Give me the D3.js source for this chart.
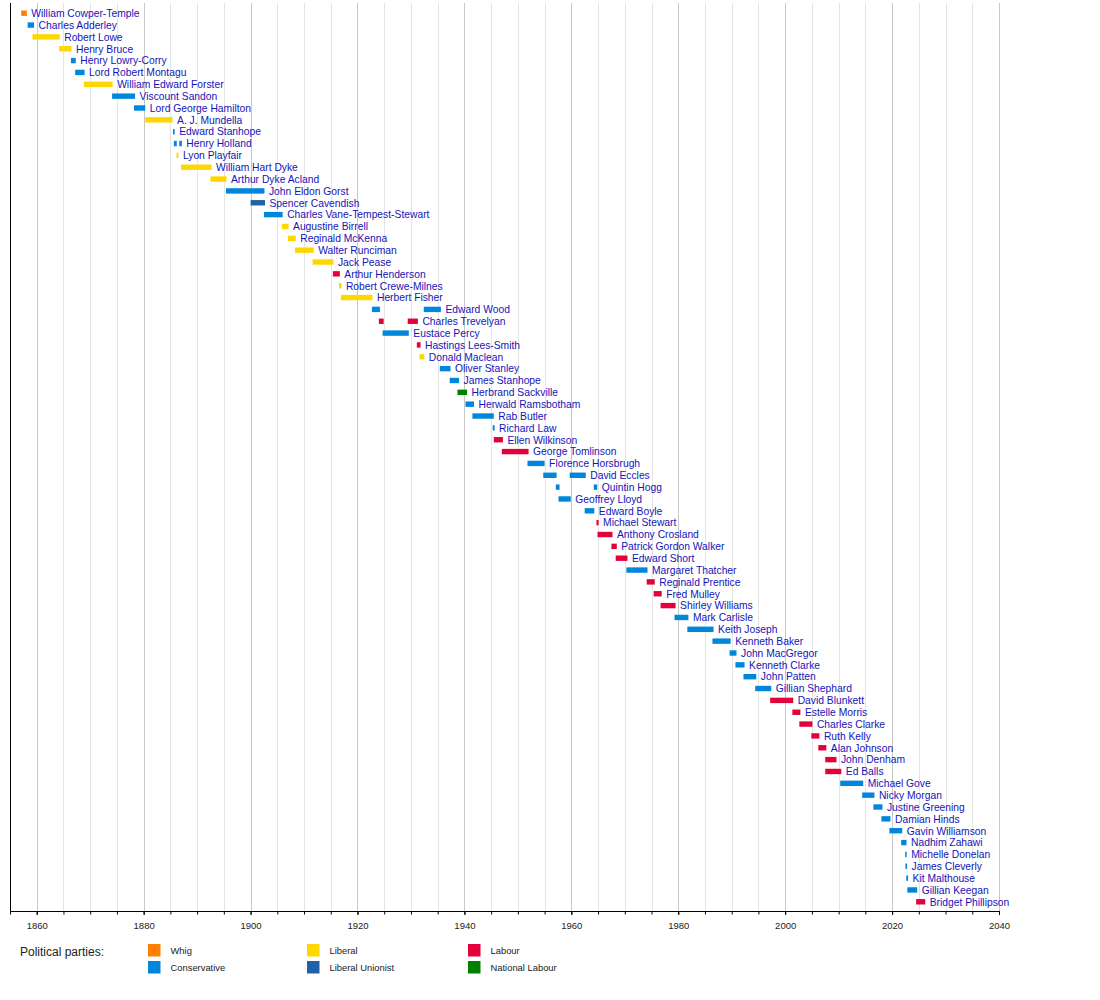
<!DOCTYPE html>
<html>
<head>
<meta charset="utf-8">
<script src="https://cdn.jsdelivr.net/npm/d3@7"></script>
<style>
  body { margin: 0; background: #fff; }
  svg { display: block; font-family: "Liberation Sans", Arial, sans-serif; }
</style>
</head>
<body>
<svg></svg>
<script>
// ministers, top to bottom
const names = [
    "William Cowper-Temple", "Charles Adderley", "Robert Lowe", "Henry Bruce", "Henry Lowry-Corry",
    "Lord Robert Montagu", "William Edward Forster", "Viscount Sandon", "Lord George Hamilton", "A. J. Mundella",
    "Edward Stanhope", "Henry Holland", "Lyon Playfair", "William Hart Dyke", "Arthur Dyke Acland",
    "John Eldon Gorst", "Spencer Cavendish", "Charles Vane-Tempest-Stewart", "Augustine Birrell", "Reginald McKenna",
    "Walter Runciman", "Jack Pease", "Arthur Henderson", "Robert Crewe-Milnes", "Herbert Fisher",
    "Edward Wood", "Charles Trevelyan", "Eustace Percy", "Hastings Lees-Smith", "Donald Maclean",
    "Oliver Stanley", "James Stanhope", "Herbrand Sackville", "Herwald Ramsbotham", "Rab Butler",
    "Richard Law", "Ellen Wilkinson", "George Tomlinson", "Florence Horsbrugh", "David Eccles",
    "Quintin Hogg", "Geoffrey Lloyd", "Edward Boyle", "Michael Stewart", "Anthony Crosland",
    "Patrick Gordon Walker", "Edward Short", "Margaret Thatcher", "Reginald Prentice", "Fred Mulley",
    "Shirley Williams", "Mark Carlisle", "Keith Joseph", "Kenneth Baker", "John MacGregor",
    "Kenneth Clarke", "John Patten", "Gillian Shephard", "David Blunkett", "Estelle Morris",
    "Charles Clarke", "Ruth Kelly", "Alan Johnson", "John Denham", "Ed Balls",
    "Michael Gove", "Nicky Morgan", "Justine Greening", "Damian Hinds", "Gavin Williamson",
    "Nadhim Zahawi", "Michelle Donelan", "James Cleverly", "Kit Malthouse", "Gillian Keegan",
    "Bridget Phillipson"
];

// W = Whig, C = Conservative, L = Liberal, LU = Liberal Unionist, Lab = Labour, NL = National Labour
const parties = [
    "W", "C", "L", "L", "C",
    "C", "L", "C", "C", "L",
    "C", "C", "L", "L", "L",
    "C", "LU", "C", "L", "L",
    "L", "L", "Lab", "L", "L",
    "C", "Lab", "C", "Lab", "L",
    "C", "C", "NL", "C", "C",
    "C", "Lab", "Lab", "C", "C",
    "C", "C", "C", "Lab", "Lab",
    "Lab", "Lab", "C", "Lab", "Lab",
    "Lab", "C", "C", "C", "C",
    "C", "C", "C", "Lab", "Lab",
    "Lab", "Lab", "Lab", "Lab", "Lab",
    "C", "C", "C", "C", "C",
    "C", "C", "C", "C", "C",
    "Lab"
];

// terms in office, [start, end] in decimal years
const terms = [
    [[1857.1, 1858.15]], [[1858.3, 1859.5]], [[1859.2, 1864.3]], [[1864.2, 1866.5]], [[1866.4, 1867.3]],
    [[1867.2, 1868.95]], [[1868.8, 1874.2]], [[1874.1, 1878.4]], [[1878.2, 1880.3]], [[1880.3, 1885.4]],
    [[1885.5, 1885.8]], [[1885.65, 1886.2], [1886.65, 1887.15]], [[1886.15, 1886.5]], [[1887.0, 1892.7]], [[1892.5, 1895.5]],
    [[1895.4, 1902.6]], [[1900.0, 1902.7]], [[1902.5, 1906.0]], [[1905.85, 1907.1]], [[1907.0, 1908.45]],
    [[1908.3, 1911.8]], [[1911.6, 1915.5]], [[1915.4, 1916.7]], [[1916.55, 1917.0]], [[1916.9, 1922.8]],
    [[1922.7, 1924.2], [1932.4, 1935.6]], [[1924.0, 1924.9], [1929.4, 1931.3]], [[1924.7, 1929.6]], [[1931.1, 1931.8]], [[1931.6, 1932.5]],
    [[1935.4, 1937.4]], [[1937.25, 1939.0]], [[1938.7, 1940.5]], [[1940.2, 1941.8]], [[1941.5, 1945.5]],
    [[1945.3, 1945.65]], [[1945.5, 1947.2]], [[1947.0, 1952.0]], [[1951.8, 1955.0]], [[1954.75, 1957.25], [1959.7, 1962.7]],
    [[1957.1, 1957.8], [1964.2, 1964.85]], [[1957.6, 1959.9]], [[1962.5, 1964.3]], [[1964.7, 1965.1]], [[1964.9, 1967.7]],
    [[1967.5, 1968.5]], [[1968.3, 1970.5]], [[1970.3, 1974.25]], [[1974.1, 1975.6]], [[1975.4, 1976.9]],
    [[1976.7, 1979.5]], [[1979.3, 1981.9]], [[1981.7, 1986.6]], [[1986.4, 1989.8]], [[1989.6, 1990.9]],
    [[1990.7, 1992.4]], [[1992.2, 1994.6]], [[1994.4, 1997.4]], [[1997.2, 2001.5]], [[2001.35, 2002.85]],
    [[2002.65, 2005.1]], [[2004.9, 2006.4]], [[2006.2, 2007.7]], [[2007.5, 2009.6]], [[2007.5, 2010.5]],
    [[2010.3, 2014.6]], [[2014.4, 2016.7]], [[2016.5, 2018.2]], [[2018.0, 2019.7]], [[2019.5, 2021.9]],
    [[2021.7, 2022.7]], [[2022.45, 2022.6]], [[2022.5, 2022.8]], [[2022.65, 2023.0]], [[2022.85, 2024.7]],
    [[2024.5, 2026.2]]
];

const partyKeys = ["W", "C", "L", "LU", "Lab", "NL"];
const partyNames = ["Whig", "Conservative", "Liberal", "Liberal Unionist", "Labour", "National Labour"];
const partyColors = ["#FF8000", "#0087DC", "#FFD700", "#2061A7", "#E4003B", "#008000"];

const yearMin = 1855, yearMax = 2040;

window.onload = function() {

    const svg = d3.select("svg")
        .attr("width", 1100)
        .attr("height", 1000);

    const x = d3.scaleLinear()
        .domain([yearMin, yearMax])
        .range([10, 999]);

    const y = d3.scalePoint()
        .domain(names)
        .range([13.2, 901.8]);

    const color = d3.scaleOrdinal()
        .domain(partyKeys)
        .range(partyColors);

    const axisY = 911;

    // vertical grid, every 5 years, stronger every 20
    const gridYears = d3.range(1860, yearMax + 1, 5);
    svg.append("g")
        .selectAll("line")
        .data(gridYears)
        .join("line")
        .attr("x1", d => Math.round(x(d)) + 0.5)
        .attr("x2", d => Math.round(x(d)) + 0.5)
        .attr("y1", 3)
        .attr("y2", axisY)
        .attr("stroke", d => d % 20 === 0 ? "#c8c8c8" : "#e4e4e4")
        .attr("stroke-width", 1);

    // left frame line
    svg.append("line")
        .attr("x1", 10.5).attr("x2", 10.5)
        .attr("y1", 3).attr("y2", axisY)
        .attr("stroke", "#000");

    // bars
    const rows = names.map((n, i) => ({ name: n, party: parties[i], terms: terms[i] }));
    const bars = [];
    rows.forEach(r => r.terms.forEach(t => bars.push({ name: r.name, party: r.party, start: t[0], end: t[1] })));

    svg.append("g")
        .selectAll("rect")
        .data(bars)
        .join("rect")
        .attr("x", d => x(d.start))
        .attr("y", d => y(d.name) - 2.7)
        .attr("width", d => Math.max(1.5, x(d.end) - x(d.start)))
        .attr("height", 5.4)
        .attr("fill", d => color(d.party));

    // labels after the last term
    svg.append("g")
        .selectAll("text")
        .data(rows)
        .join("text")
        .attr("x", d => Math.max(x(d.terms[d.terms.length - 1][1]), x(d.terms[d.terms.length - 1][0]) + 1.5) + 4.5)
        .attr("y", d => y(d.name) + 3.8)
        .attr("font-size", "10.3px")
        .attr("fill", "#1414B8")
        .text(d => d.name);

    // axis: minor ticks every 5 years, labelled ticks every 20
    const minorAxis = d3.axisBottom(x)
        .tickValues(d3.range(yearMin, yearMax + 1, 5))
        .tickSize(3.5)
        .tickSizeOuter(0)
        .tickFormat("");
    svg.append("g")
        .attr("transform", "translate(0," + axisY + ")")
        .call(minorAxis)
        .call(g => g.select(".domain").attr("stroke", "#000"));

    const majorAxis = d3.axisBottom(x)
        .tickValues(d3.range(1860, yearMax + 1, 20))
        .tickSize(4)
        .tickSizeOuter(0)
        .tickFormat(d3.format("d"));
    svg.append("g")
        .attr("transform", "translate(0," + axisY + ")")
        .call(majorAxis)
        .call(g => g.select(".domain").remove())
        .call(g => g.selectAll("text")
            .attr("y", 17.5)
            .attr("dy", 0)
            .attr("font-family", "'Liberation Sans', Arial, sans-serif")
            .attr("font-size", "9.5px")
            .attr("fill", "#222"));

    // legend
    svg.append("text")
        .attr("x", 20)
        .attr("y", 956)
        .attr("font-size", "12px")
        .attr("fill", "#222")
        .text("Political parties:");

    const legendX = [148, 148, 307, 307, 468, 468];
    const legendY = [944, 961, 944, 961, 944, 961];

    const legend = svg.append("g")
        .selectAll("g")
        .data(partyKeys)
        .join("g")
        .attr("transform", (d, i) => "translate(" + legendX[i] + "," + legendY[i] + ")");

    legend.append("rect")
        .attr("width", 12.5)
        .attr("height", 12.5)
        .attr("fill", d => color(d));

    legend.append("text")
        .attr("x", 22.5)
        .attr("y", 10)
        .attr("font-size", "9.4px")
        .attr("fill", "#222")
        .text((d, i) => partyNames[i]);
}
</script>
</body>
</html>
